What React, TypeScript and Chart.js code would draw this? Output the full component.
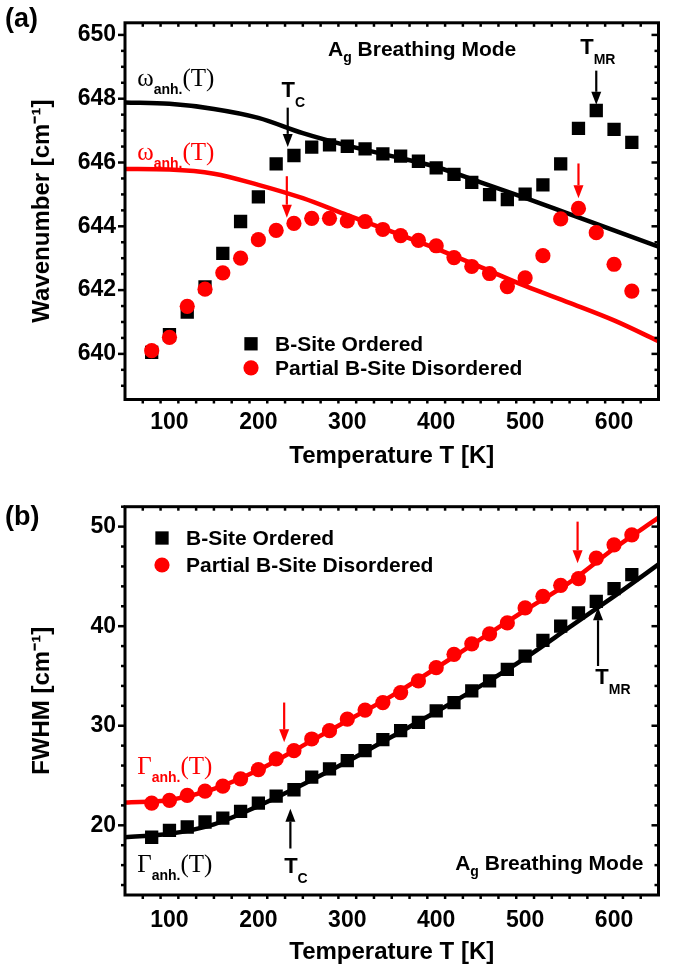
import React, { useEffect, useRef } from "react";
import { Chart, registerables } from "chart.js";

Chart.register(...registerables);

// ---------- data ----------
const temperatures = [80, 100, 120, 140, 160, 180, 200, 220, 240, 260, 280, 300, 320, 340, 360, 380, 400, 420, 440, 460, 480, 500, 520, 540, 560, 580, 600, 620];
const wavenumberOrdered = [640.05, 640.6, 641.31, 642.1, 643.15, 644.15, 644.92, 645.96, 646.22, 646.48, 646.55, 646.51, 646.43, 646.27, 646.2, 646.04, 645.83, 645.63, 645.38, 644.99, 644.84, 645.01, 645.3, 645.96, 647.07, 647.63, 647.04, 646.63];
const wavenumberDisordered = [640.1, 640.52, 641.49, 642.03, 642.54, 643.0, 643.58, 643.87, 644.09, 644.25, 644.25, 644.17, 644.15, 643.9, 643.71, 643.56, 643.39, 643.02, 642.74, 642.52, 642.11, 642.38, 643.08, 644.23, 644.56, 643.8, 642.81, 641.97];
const fitTemperatures = [50, 100, 150, 200, 250, 300, 350, 400, 450, 500, 550, 600, 650];
const wavenumberFitOrdered = [647.88, 647.84, 647.68, 647.4, 646.92, 646.53, 646.2, 645.86, 645.38, 644.89, 644.38, 643.87, 643.36];
const wavenumberFitDisordered = [645.8, 645.78, 645.65, 645.3, 644.88, 644.35, 643.83, 643.3, 642.72, 642.13, 641.6, 641.05, 640.4];
const fwhmOrdered = [18.8, 19.5, 19.83, 20.33, 20.73, 21.4, 22.23, 22.93, 23.57, 24.83, 25.67, 26.5, 27.5, 28.6, 29.5, 30.33, 31.5, 32.33, 33.5, 34.5, 35.67, 37.0, 38.57, 40.0, 41.33, 42.5, 43.77, 45.17];
const fwhmDisordered = [22.23, 22.5, 23.0, 23.43, 23.93, 24.67, 25.6, 26.67, 27.5, 28.67, 29.5, 30.67, 31.57, 32.33, 33.33, 34.5, 35.83, 37.17, 38.23, 39.23, 40.33, 41.83, 43.0, 44.1, 44.77, 46.83, 48.17, 49.17];
const fwhmFitOrdered = [18.8, 19.15, 20.1, 21.95, 24.1, 26.4, 28.9, 31.4, 34.0, 36.8, 39.9, 43.0, 46.2];
const fwhmFitDisordered = [22.3, 22.55, 23.65, 25.55, 28.0, 30.5, 33.0, 35.8, 38.7, 41.6, 44.4, 47.8, 50.9];
const temperatureTicks = [100, 200, 300, 400, 500, 600];
const wavenumberTicks = [640, 642, 644, 646, 648, 650];
const fwhmTicks = [20, 30, 40, 50];
const seriesLabels = ["B-Site Ordered", "Partial B-Site Disordered"];

// ---------- styling ----------
const SANS = '"Liberation Sans", Arial, Helvetica, sans-serif';
const SERIF = '"Liberation Serif", "Times New Roman", Times, serif';
const RED = "#ff0000";
const BLACK = "#000000";

const toXY = (xs: number[], ys: number[]) => xs.map((x, i) => ({ x, y: ys[i] }));

const frameTicksPlugin = {
  id: "frameTicks",
  afterDatasetsDraw(chart: any, _args: any, opts: any) {
    const { ctx, chartArea: a, scales } = chart;
    const xs = scales.x;
    const ys = scales.y;
    ctx.save();
    ctx.strokeStyle = BLACK;
    ctx.lineCap = "butt";
    const line = (x1: number, y1: number, x2: number, y2: number) => {
      ctx.beginPath();
      ctx.moveTo(x1, y1);
      ctx.lineTo(x2, y2);
      ctx.stroke();
    };
    ctx.lineWidth = 2.5;
    const MAJ = 7;
    const MIN = 4;
    const nx = Math.round((xs.max - xs.min) / opts.xMinor);
    for (let i = 0; i <= nx; i++) {
      const v = xs.min + i * opts.xMinor;
      if (v <= xs.min || v >= xs.max) continue;
      const r = v / opts.xMajor;
      const major = Math.abs(r - Math.round(r)) < 1e-6;
      const L = major ? MAJ : MIN;
      const p = xs.getPixelForValue(v);
      line(p, a.bottom, p, a.bottom + L);
      line(p, a.top, p, a.top + L);
    }
    const start = Math.ceil(ys.min / opts.yMinor - 1e-9);
    const end = Math.floor(ys.max / opts.yMinor + 1e-9);
    for (let k = start; k <= end; k++) {
      const v = k * opts.yMinor;
      const r = v / opts.yMajor;
      const major = Math.abs(r - Math.round(r)) < 1e-6;
      const L = major ? MAJ : MIN;
      const p = ys.getPixelForValue(v);
      line(a.left - L, p, a.left, p);
      line(a.right - L, p, a.right, p);
    }
    ctx.lineWidth = 3;
    ctx.strokeRect(a.left, a.top, a.right - a.left, a.bottom - a.top);
    ctx.restore();
  },
};

const annotPlugin = {
  id: "annot",
  afterDatasetsDraw(chart: any, _args: any, opts: any) {
    const { ctx, chartArea: a, scales } = chart;
    const xs = scales.x;
    const ys = scales.y;
    ctx.save();
    for (const ar of opts.arrows || []) {
      const px = xs.getPixelForValue(ar.x);
      const p1 = ys.getPixelForValue(ar.y1);
      const p2 = ys.getPixelForValue(ar.y2);
      const dir = p2 > p1 ? 1 : -1;
      const head = 13;
      const hw = 5;
      ctx.strokeStyle = ar.color;
      ctx.fillStyle = ar.color;
      ctx.lineWidth = 2.2;
      ctx.beginPath();
      ctx.moveTo(px, p1);
      ctx.lineTo(px, p2 - dir * head);
      ctx.stroke();
      ctx.beginPath();
      ctx.moveTo(px, p2);
      ctx.lineTo(px - hw, p2 - dir * head);
      ctx.lineTo(px + hw, p2 - dir * head);
      ctx.closePath();
      ctx.fill();
    }
    ctx.textAlign = "left";
    ctx.textBaseline = "alphabetic";
    for (const tx of opts.texts || []) {
      let px = xs.getPixelForValue(tx.x);
      const py = ys.getPixelForValue(tx.y);
      const widths = tx.segs.map((s: any) => {
        ctx.font = s.f;
        return ctx.measureText(s.t).width;
      });
      const total = widths.reduce((p: number, c: number) => p + c, 0);
      if (tx.align === "right") px -= total;
      ctx.fillStyle = tx.color;
      tx.segs.forEach((s: any, i: number) => {
        ctx.font = s.f;
        ctx.fillText(s.t, px, py + (s.dy || 0));
        px += widths[i];
      });
    }
    const lg = opts.legend;
    if (lg) {
      ctx.font = lg.font;
      ctx.textBaseline = "middle";
      lg.rows.forEach((dsIndex: number, row: number) => {
        const ds = chart.data.datasets[dsIndex];
        const mx = a.left + lg.dx;
        const my = a.top + lg.dy[row];
        ctx.fillStyle = ds.backgroundColor;
        if (ds.pointStyle === "rect") {
          const h = ds.pointRadius * Math.SQRT1_2;
          ctx.fillRect(mx - h, my - h, 2 * h, 2 * h);
        } else {
          ctx.beginPath();
          ctx.arc(mx, my, ds.pointRadius, 0, Math.PI * 2);
          ctx.fill();
        }
        ctx.fillStyle = BLACK;
        ctx.fillText(ds.label, a.left + lg.textDx, my + 1);
      });
    }
    if (opts.panel) {
      ctx.textBaseline = "alphabetic";
      ctx.fillStyle = BLACK;
      ctx.font = `bold 27px ${SANS}`;
      ctx.fillText(opts.panel.text, opts.panel.x, opts.panel.y);
    }
    ctx.restore();
  },
};

function buildConfig(p: any) {
  const tickFont = { family: SANS, size: 23, weight: "bold" as const };
  const titleFont = { family: SANS, size: 24, weight: "bold" as const };
  return {
    type: "scatter" as const,
    data: {
      datasets: [
        {
          label: seriesLabels[1],
          data: toXY(temperatures, p.dis),
          pointStyle: "circle",
          pointRadius: 7.6,
          backgroundColor: RED,
          borderWidth: 0,
          showLine: false,
          order: 0,
        },
        {
          label: seriesLabels[0],
          data: toXY(temperatures, p.ord),
          pointStyle: "rect",
          pointRadius: 9.4,
          backgroundColor: BLACK,
          borderWidth: 0,
          showLine: false,
          order: 1,
        },
        {
          type: "line" as const,
          label: "fit ordered",
          data: toXY(fitTemperatures, p.fitOrd),
          borderColor: BLACK,
          borderWidth: 4.5,
          pointRadius: 0,
          cubicInterpolationMode: "monotone" as const,
          fill: false,
          order: 2,
        },
        {
          type: "line" as const,
          label: "fit disordered",
          data: toXY(fitTemperatures, p.fitDis),
          borderColor: RED,
          borderWidth: 4.5,
          pointRadius: 0,
          cubicInterpolationMode: "monotone" as const,
          fill: false,
          order: 2,
        },
      ],
    },
    options: {
      responsive: false,
      animation: false as const,
      events: [],
      layout: { padding: { left: 0, right: 20.5, top: p.padTop, bottom: 0 } },
      plugins: {
        legend: { display: false },
        tooltip: { enabled: false },
        frameTicks: { xMajor: 100, xMinor: 20, yMajor: p.yMajor, yMinor: p.yMinor },
        annot: p.annot,
      },
      scales: {
        x: {
          type: "linear" as const,
          min: 50,
          max: 650,
          afterBuildTicks: (s: any) => {
            s.ticks = temperatureTicks.map((v) => ({ value: v }));
          },
          afterFit: (s: any) => {
            s.height = p.xAxisH;
          },
          grid: { display: false, drawTicks: false },
          border: { display: false },
          ticks: { font: tickFont, color: BLACK, padding: p.xPad, maxRotation: 0, autoSkip: false },
          title: {
            display: true,
            text: "Temperature T [K]",
            font: titleFont,
            color: BLACK,
            padding: { top: 0, bottom: p.xTitlePad },
          },
        },
        y: {
          type: "linear" as const,
          min: p.yMin,
          max: p.yMax,
          afterBuildTicks: (s: any) => {
            s.ticks = p.yTicks.map((v: number) => ({ value: v }));
          },
          afterFit: (s: any) => {
            s.width = 125;
          },
          grid: { display: false, drawTicks: false },
          border: { display: false },
          ticks: { font: tickFont, color: BLACK, padding: 9, autoSkip: false },
          title: {
            display: true,
            text: p.yTitle,
            font: titleFont,
            color: BLACK,
            padding: { top: p.yTitlePad, bottom: 0 },
          },
        },
      },
    },
    plugins: [frameTicksPlugin, annotPlugin],
  };
}

const big = (t: string) => ({ t, f: `bold 22px ${SANS}` });
const sub = (t: string) => ({ t, f: `bold 14px ${SANS}`, dy: 10 });
const greek = (t: string) => ({ t, f: `25px ${SERIF}` });
const anh = { t: "anh.", f: `bold 14px ${SANS}`, dy: 8 };
const paren = { t: "(T)", f: `25px ${SERIF}` };
const modeText = [
  { t: "A", f: `bold 21px ${SANS}` },
  { t: "g", f: `bold 14px ${SANS}`, dy: 6 },
  { t: " Breathing Mode", f: `bold 21px ${SANS}` },
];

const topSpec = {
  ord: wavenumberOrdered,
  dis: wavenumberDisordered,
  fitOrd: wavenumberFitOrdered,
  fitDis: wavenumberFitDisordered,
  yMin: 638.57,
  yMax: 650.38,
  yTicks: wavenumberTicks,
  yMajor: 2,
  yMinor: 0.5,
  yTitle: "Wavenumber [cm\u207B\u00B9]",
  yTitlePad: 28,
  padTop: 13,
  xAxisH: 80.5,
  xPad: 9,
  xTitlePad: 9,
  annot: {
    panel: { text: "(a)", x: 5, y: 27 },
    legend: { font: `bold 21px ${SANS}`, dx: 126, dy: [321, 345], textDx: 150, rows: [1, 0] },
    arrows: [
      { x: 233, y1: 647.72, y2: 646.49, color: BLACK },
      { x: 580, y1: 648.88, y2: 647.81, color: BLACK },
      { x: 232, y1: 645.57, y2: 644.27, color: RED },
      { x: 560, y1: 645.97, y2: 644.88, color: RED },
    ],
    texts: [
      { x: 490, y: 649.35, align: "right", color: BLACK, segs: modeText },
      { x: 562, y: 649.39, color: BLACK, segs: [big("T"), sub("MR")] },
      { x: 226, y: 648.05, color: BLACK, segs: [big("T"), sub("C")] },
      { x: 63.7, y: 648.39, color: BLACK, segs: [greek("\u03C9"), anh, paren] },
      { x: 63.7, y: 646.07, color: RED, segs: [greek("\u03C9"), anh, paren] },
    ],
  },
};

const bottomSpec = {
  ord: fwhmOrdered,
  dis: fwhmDisordered,
  fitOrd: fwhmFitOrdered,
  fitDis: fwhmFitDisordered,
  yMin: 13,
  yMax: 52,
  yTicks: fwhmTicks,
  yMajor: 10,
  yMinor: 2,
  yTitle: "FWHM [cm\u207B\u00B9]",
  yTitlePad: 28,
  padTop: 26.7,
  xAxisH: 76,
  xPad: 12,
  xTitlePad: 4,
  annot: {
    panel: { text: "(b)", x: 5, y: 45 },
    legend: { font: `bold 21px ${SANS}`, dx: 37, dy: [31.3, 58.3], textDx: 61, rows: [1, 0] },
    arrows: [
      { x: 236, y1: 17.67, y2: 21.67, color: BLACK },
      { x: 582, y1: 36.0, y2: 41.9, color: BLACK },
      { x: 229, y1: 32.33, y2: 28.33, color: RED },
      { x: 559, y1: 50.5, y2: 46.33, color: RED },
    ],
    texts: [
      { x: 633, y: 15.5, align: "right", color: BLACK, segs: modeText },
      { x: 229, y: 15.2, color: BLACK, segs: [big("T"), sub("C")] },
      { x: 579, y: 34.2, color: BLACK, segs: [big("T"), sub("MR")] },
      { x: 63.7, y: 25.2, color: RED, segs: [greek("\u0393"), anh, paren] },
      { x: 63.7, y: 15.3, color: BLACK, segs: [greek("\u0393"), anh, paren] },
    ],
  },
};

function Panel({ spec, top, height }: { spec: any; top: number; height: number }) {
  const ref = useRef<HTMLCanvasElement | null>(null);
  useEffect(() => {
    if (!ref.current) return;
    const chart = new Chart(ref.current, buildConfig(spec) as any);
    return () => chart.destroy();
  }, [spec]);
  return (
    <div style={{ position: "absolute", left: 0, top, width: 679, height }}>
      <canvas ref={ref} width={679} height={height} style={{ width: 679, height, display: "block" }} />
    </div>
  );
}

export default function App() {
  return (
    <div style={{ position: "absolute", left: 0, top: 0, width: 679, height: 971, background: "#ffffff" }}>
      <Panel spec={topSpec} top={0} height={480} />
      <Panel spec={bottomSpec} top={480} height={491} />
    </div>
  );
}
